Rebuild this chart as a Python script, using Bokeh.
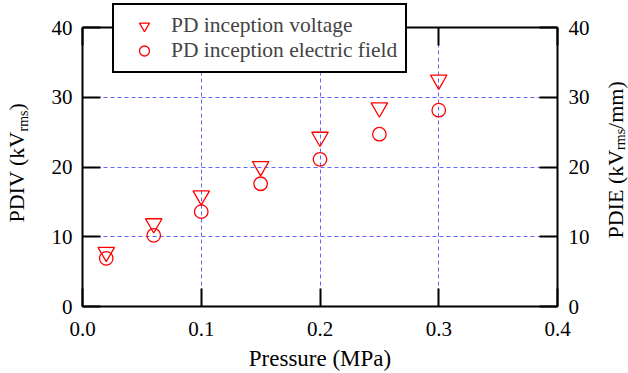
import math
from bokeh.plotting import figure
from bokeh.models import (LinearAxis, Range1d, FixedTicker, PrintfTickFormatter,
                          Legend, LegendItem, Label, ColumnDataSource, Grid)
from bokeh.embed import file_html
from bokeh.resources import INLINE

# ---- data ----
pressure = [0.02, 0.06, 0.10, 0.15, 0.20, 0.25, 0.30]
pdiv = [7.8, 11.9, 15.9, 20.1, 24.3, 28.5, 32.5]
pdie = [6.9, 10.2, 13.6, 17.6, 21.1, 24.7, 28.15]
x_ticks = [0.0, 0.1, 0.2, 0.3, 0.4]
y_ticks = [0, 10, 20, 30, 40]
legend_labels = ["PD inception voltage", "PD inception electric field"]

FONT = "Liberation Serif"
RED = "#ff0000"
GRID = "#6464ff"

W, H = 628, 373
# visible plot box (pixels)
BL, BR, BT, BB = 82, 557, 27, 306
X0, X1, Y0, Y1 = 0.0, 0.4, 0.0, 40.0
sx = (X1 - X0) / (BR - BL)
sy = (Y1 - Y0) / (BB - BT)
XR0, XR1 = X0 - BL * sx, X0 + (W - BL) * sx
YR0, YR1 = Y0 - (H - BB) * sy, Y1 + BT * sy

p = figure(width=W, height=H, output_backend="svg", toolbar_location=None,
           x_range=Range1d(XR0, XR1), y_range=Range1d(YR0, YR1),
           min_border=0, min_border_left=0, min_border_right=0,
           min_border_top=0, min_border_bottom=0,
           background_fill_color="white", border_fill_color="white")
p.outline_line_color = None

def style_axis(ax, bounds, loc, show_labels=True):
    ax.fixed_location = loc
    ax.bounds = bounds
    ax.axis_line_width = 2
    ax.axis_line_color = "black"
    ax.major_tick_in = 18
    ax.major_tick_out = 0
    ax.major_tick_line_width = 2
    ax.major_tick_line_color = "black"
    ax.minor_tick_line_color = None
    ax.major_label_text_font = FONT
    ax.major_label_text_font_size = "21px"
    ax.major_label_text_color = "black" if show_labels else None
    ax.axis_label = None

xt = FixedTicker(ticks=x_ticks)
yt = FixedTicker(ticks=y_ticks)

bx = p.xaxis[0]
bx.ticker = xt
bx.formatter = PrintfTickFormatter(format="%.1f")
style_axis(bx, (X0, X1), Y0)
bx.major_label_standoff = 15

ly = p.yaxis[0]
ly.ticker = yt
style_axis(ly, (Y0, Y1), X0)
ly.major_label_standoff = 10

ry = LinearAxis(ticker=yt)
style_axis(ry, (Y0, Y1), X1)
ry.major_label_standoff = 11
p.add_layout(ry, "right")

tx = LinearAxis(ticker=xt)
style_axis(tx, (X0, X1), Y1, show_labels=False)
p.add_layout(tx, "above")

# grid
has_cb = "cross_bounds" in Grid.properties()
p.xgrid.ticker = FixedTicker(ticks=x_ticks[1:-1])
p.ygrid.ticker = FixedTicker(ticks=y_ticks[1:-1])
if has_cb:
    p.xgrid.cross_bounds = (Y0, Y1)
    p.ygrid.cross_bounds = (X0, X1)
    for g in (p.xgrid[0], p.ygrid[0]):
        g.grid_line_color = GRID
        g.grid_line_alpha = 1.0
        g.grid_line_width = 1
        g.grid_line_dash = "4 3"
else:
    p.xgrid.grid_line_color = None
    p.ygrid.grid_line_color = None
    gx = x_ticks[1:-1]
    p.segment(x0=gx, x1=gx, y0=[Y0] * len(gx), y1=[Y1] * len(gx),
              line_color=GRID, line_width=1, line_dash="4 3")
    gy = y_ticks[1:-1]
    p.segment(x0=[X0] * len(gy), x1=[X1] * len(gy), y0=gy, y1=gy,
              line_color=GRID, line_width=1, line_dash="4 3")

src = ColumnDataSource(dict(x=pressure, v=pdiv, e=pdie))
r1 = p.scatter("x", "v", source=src, marker="inverted_triangle", size=16.5,
               fill_color=None, line_color=RED, line_width=1.3)
r2 = p.scatter("x", "e", source=src, marker="circle", size=13.5,
               fill_color=None, line_color=RED, line_width=1.3)

legend = Legend(items=[LegendItem(label=legend_labels[0], renderers=[r1]),
                       LegendItem(label=legend_labels[1], renderers=[r2])],
                location=(112, H - 73), orientation="vertical",
                padding=8, spacing=0, margin=0,
                glyph_width=44, glyph_height=25, label_height=25,
                label_standoff=5,
                label_text_font=FONT, label_text_font_size="21.5px",
                border_line_color="black", border_line_width=2,
                border_line_alpha=1.0,
                background_fill_color="white", background_fill_alpha=1.0)
p.add_layout(legend, "center")

# pixel -> data helpers for the axis titles
def dx(px):
    return XR0 + px * sx

def dy(py):
    return YR1 - py * sy

def add_text(txt, px, py, size, angle=0.0, align="left"):
    lab = Label(x=dx(px), y=dy(py), text=txt, angle=angle,
                text_font=FONT, text_font_size=f"{size}px", text_color="black",
                text_align=align, text_baseline="middle")
    p.add_layout(lab)

# Times/Liberation Serif advance widths (em)
def em_width(s):
    widths = {"P": .556, "D": .722, "I": .333, "V": .722, "E": .611, " ": .25,
              "(": .333, ")": .333, "k": .5, "r": .333, "m": .778, "s": .389,
              "/": .278}
    return sum(widths.get(c, .5) for c in s)

BIG, SUB = 22, 14
up = math.pi / 2

# left title: PDIV (kV_rms)
y_cur = 222
add_text("PDIV (kV", 15.5, y_cur, BIG, up)
y_cur -= em_width("PDIV (kV") * BIG
add_text("rms", 23, y_cur, SUB, up)
y_cur -= em_width("rms") * SUB
add_text(")", 15.5, y_cur, BIG, up)

# right title: PDIE (kV_rms/mm)
y_cur = 238
add_text("PDIE (kV", 615, y_cur, BIG, up)
y_cur -= em_width("PDIE (kV") * BIG
add_text("rms", 620, y_cur, SUB, up)
y_cur -= em_width("rms") * SUB
add_text("/mm)", 615, y_cur, BIG, up)

# bottom title
add_text("Pressure (MPa)", (BL + BR) / 2, 357.5, 23, 0.0, align="center")

open("out.html", "w").write(file_html(p, INLINE))
